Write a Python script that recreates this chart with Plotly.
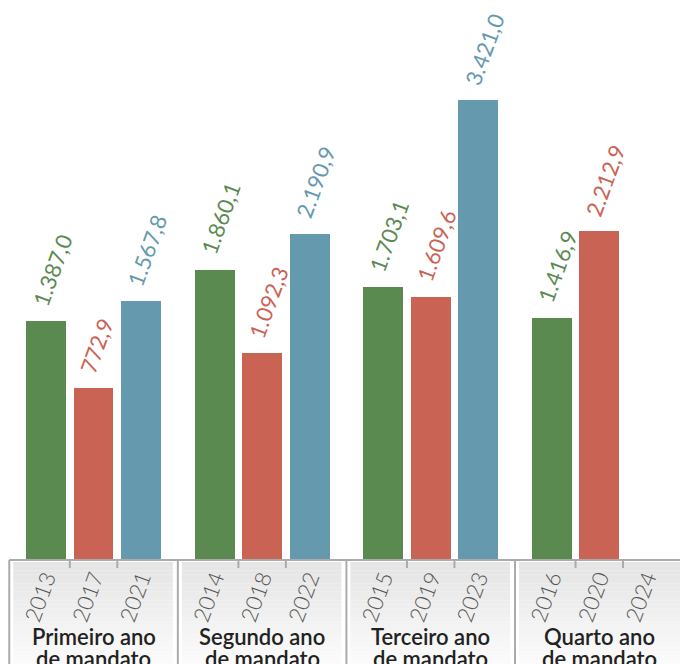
import plotly.graph_objects as go

# Values per year of each mandate (first, second, third, fourth year)
period_line1 = ["Primeiro ano", "Segundo ano", "Terceiro ano", "Quarto ano"]
period_line2 = ["de mandato", "de mandato", "de mandato", "de mandato"]
years_a = ["2013", "2014", "2015", "2016"]
years_b = ["2017", "2018", "2019", "2020"]
years_c = ["2021", "2022", "2023", "2024"]
values_a = [1387.0, 1860.1, 1703.1, 1416.9]
values_b = [772.9, 1092.3, 1609.6, 2212.9]
values_c = [1567.8, 2190.9, 3421.0, None]

colors = ["#5b8a51", "#c96455", "#6499ae"]

W, H = 680, 664
PLOT_H = 560
GROUP_STEP = 3.55          # distance between groups, in bar slots
BAR_W = 0.84
Y_FLOOR, Y_TOP = -812, 4341
X_MIN, X_MAX = -0.97, 3 * GROUP_STEP + 2.7
PX = W / (X_MAX - X_MIN)   # pixels per x unit


def br(v):
    s = f"{v:,.1f}"
    return s.replace(",", "X").replace(".", ",").replace("X", ".")


def py(p):
    """pixel row -> paper y"""
    return (PLOT_H - p) / PLOT_H


series = [(years_a, values_a), (years_b, values_b), (years_c, values_c)]

fig = go.Figure()
annotations = []
tickvals, ticktext = [], []
for i, (yrs, vals) in enumerate(series):
    xs = [g * GROUP_STEP + i for g in range(len(vals))]
    ys = [None if v is None else v - Y_FLOOR for v in vals]
    fig.add_trace(go.Bar(
        x=xs, y=ys, base=Y_FLOOR, width=BAR_W,
        marker=dict(color=colors[i], line=dict(width=0)),
        hoverinfo="skip", showlegend=False,
    ))
    for x, v, yr in zip(xs, vals, yrs):
        tickvals.append(x)
        ticktext.append(yr)
        if v is None:
            continue
        annotations.append(dict(
            x=x, y=v, xref="x", yref="y", text=br(v), showarrow=False,
            textangle=-70, xanchor="left", yanchor="bottom",
            xshift=-22, yshift=9,
            font=dict(family="Lato", size=22, color=colors[i], weight=400),
        ))

shapes = []
# gradient panels under each group
n_strips = 24
top_px, bot_px = 562, H
pad_l, pad_r = 4 / PX, 5 / PX
half_gap = (GROUP_STEP - 2) / 2
bounds = [g * GROUP_STEP - half_gap for g in range(4)] + [X_MAX]
for g in range(4):
    x0 = bounds[g] + pad_l
    x1 = bounds[g + 1] - pad_r if g < 3 else X_MAX
    for k in range(n_strips):
        t = k / (n_strips - 1)
        c = int(229 + (251 - 229) * t)
        p0 = top_px + (bot_px - top_px) * k / n_strips
        p1 = top_px + (bot_px - top_px) * (k + 1) / n_strips
        shapes.append(dict(type="rect", xref="x", yref="paper",
                           x0=x0, x1=x1, y0=py(p1), y1=py(p0),
                           fillcolor=f"rgb({c},{c},{c})", line=dict(width=0),
                           layer="below"))
# group separators
for g in range(4):
    shapes.append(dict(type="line", xref="x", yref="paper",
                       x0=bounds[g], x1=bounds[g], y0=py(PLOT_H), y1=py(H),
                       line=dict(color="#ababab", width=2)))
# baseline
shapes.append(dict(type="line", xref="x", yref="paper",
                   x0=bounds[0], x1=X_MAX, y0=py(PLOT_H), y1=py(PLOT_H),
                   line=dict(color="#ababab", width=2)))
# small ticks between bars
for g in range(4):
    for j in (0.5, 1.5):
        xt = g * GROUP_STEP + j
        shapes.append(dict(type="line", xref="x", yref="paper",
                           x0=xt, x1=xt, y0=py(PLOT_H), y1=py(PLOT_H + 8),
                           line=dict(color="#ababab", width=2)))

# group labels, two lines with tight leading
label_font = dict(family="Lato", size=22, color="#222222", weight=600)
for g, (l1, l2) in enumerate(zip(period_line1, period_line2)):
    cx = g * GROUP_STEP + 1
    annotations.append(dict(
        x=cx, y=py(636), xref="x", yref="paper", text=l1, showarrow=False,
        xanchor="center", yanchor="middle", font=label_font))
    annotations.append(dict(
        x=cx, y=py(658), xref="x", yref="paper", text=l2, showarrow=False,
        xanchor="center", yanchor="middle", font=label_font))

fig.update_layout(
    width=W, height=H,
    margin=dict(l=0, r=0, t=0, b=H - PLOT_H, pad=0),
    paper_bgcolor="white", plot_bgcolor="white",
    bargap=0,
    xaxis=dict(range=[X_MIN, X_MAX], tickvals=tickvals, ticktext=ticktext,
               tickangle=-70, ticks="", showgrid=False, zeroline=False,
               showline=False,
               tickfont=dict(family="Lato", size=22, color="#555555", weight=300)),
    yaxis=dict(range=[Y_FLOOR, Y_TOP], visible=False, showgrid=False,
               zeroline=False),
    shapes=shapes,
    annotations=annotations,
)

fig.write_html("out.html")
